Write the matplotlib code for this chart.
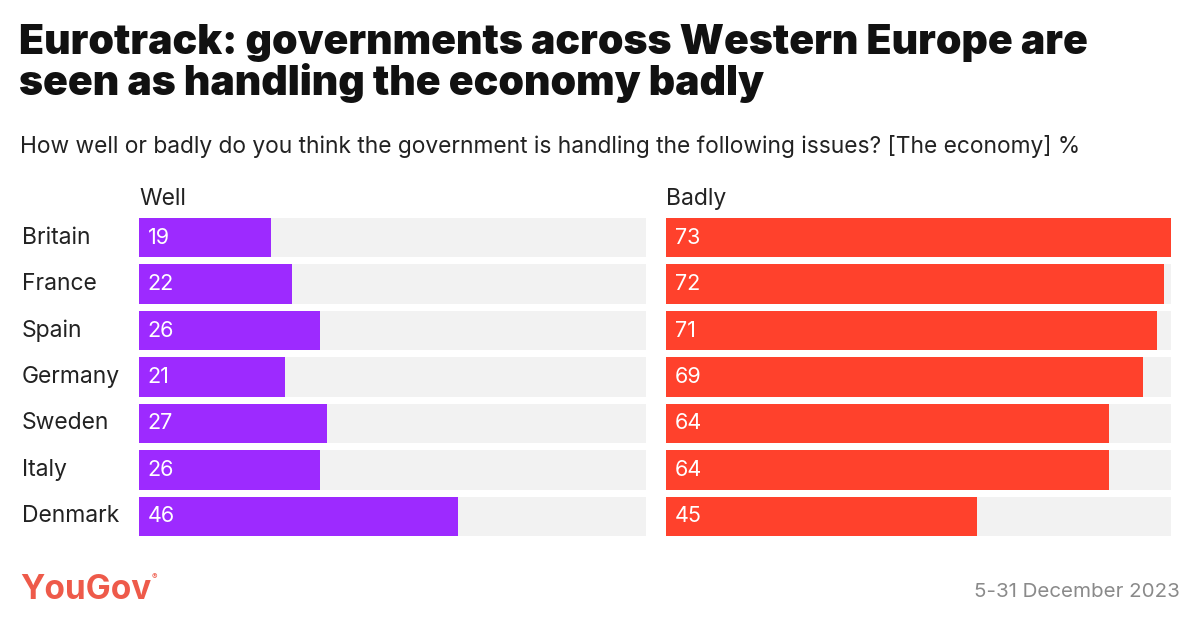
import matplotlib.pyplot as plt

countries = ["Britain", "France", "Spain", "Germany", "Sweden", "Italy", "Denmark"]
well = [19, 22, 26, 21, 27, 26, 46]
badly = [73, 72, 71, 69, 64, 64, 45]

purple = "#9D2AFF"
red = "#FF412C"
track = "#F2F2F2"

plt.rcParams['font.family'] = ['Inter', 'DejaVu Sans']

fig = plt.figure(figsize=(12, 6.29), dpi=100)
fig.patch.set_facecolor("white")

xmax = max(max(well), max(badly))
ypos = list(range(len(countries)))

ax_w = fig.add_axes([139 / 1200, 1 - 536 / 629, 507 / 1200, 318 / 629])
ax_b = fig.add_axes([666 / 1200, 1 - 536 / 629, 505 / 1200, 318 / 629])

for ax, vals, col, head in [(ax_w, well, purple, "Well"), (ax_b, badly, red, "Badly")]:
    ax.barh(ypos, [xmax] * len(vals), height=0.84, color=track, linewidth=0)
    ax.barh(ypos, vals, height=0.84, color=col, linewidth=0)
    for y, v in zip(ypos, vals):
        ax.text(xmax * 0.017, y, str(v), color="white", fontsize=15.5,
                va="center", ha="left")
    ax.set_xlim(0, xmax)
    ax.set_ylim(len(vals) - 1 + 0.42, -0.42)
    ax.axis("off")
    ax.text(0, -0.6, head, fontsize=16.5, color="#222222", va="bottom", ha="left")

for y, c in zip(ypos, countries):
    ax_w.text(-117 / 507 * xmax, y, c, fontsize=16.5, color="#222222",
              va="center", ha="left")

fig.text(19 / 1200, 1 - 24 / 629,
         "Eurotrack: governments across Western Europe are\nseen as handling the economy badly",
         fontsize=29.5, fontweight=900, color="#111111", va="top", ha="left",
         linespacing=1.04)
fig.text(20 / 1200, 1 - 147 / 629,
         "How well or badly do you think the government is handling the following issues? [The economy] %",
         fontsize=16.4, color="#222222", va="center", ha="left")

fig.text(20 / 1200, 1 - 590 / 629, "YouGov", fontsize=24, fontweight="bold",
         color="#EE5A4A", va="center", ha="left")
fig.text(152 / 1200, 1 - 577 / 629, "®", fontsize=6,
         color="#EE5A4A", va="center", ha="left")
fig.text(1180 / 1200, 1 - 592 / 629, "5-31 December 2023", fontsize=14.8,
         color="#8A8A8A", va="center", ha="right")

fig.savefig("out.png", dpi=100, facecolor="white")
